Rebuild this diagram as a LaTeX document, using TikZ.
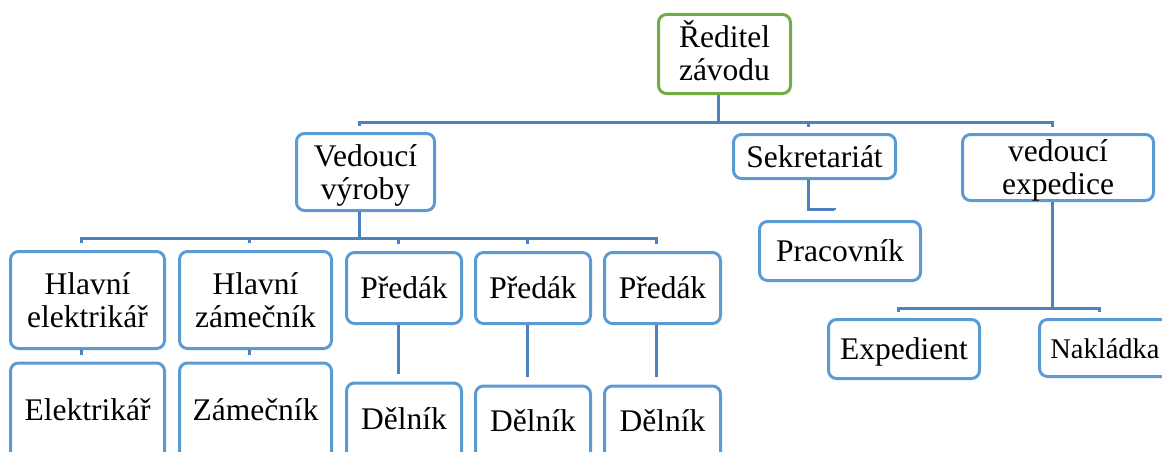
\documentclass[tikz,border=0pt]{standalone}
\usepackage{fontspec}
\setmainfont{Liberation Serif}
\usepackage{tikz}
\usetikzlibrary{calc}
\usetikzlibrary{positioning}
\definecolor{BoxBlue}{RGB}{91,155,213}
\definecolor{LinkBlue}{RGB}{79,129,189}
\definecolor{LeafGreen}{RGB}{112,173,71}
\tikzset{
	unit/.style={draw=BoxBlue, line width=3pt, rounded corners=8pt, align=center, inner sep=0pt, font=\fontsize{31.5}{33}\selectfont},
	oneline/.style={text height=27pt, text depth=6pt},
	twoline/.style={text height=60pt, text depth=6pt},
	cutbox/.style={anchor=north, minimum width=154pt, text depth=80pt},
	link/.style={draw=LinkBlue, line width=3pt}
}

\begin{document}
\begin{tikzpicture}[x=1pt, y=-1pt]
		\useasboundingbox (0,0) rectangle (1162,452);
		
		\node [unit, twoline, draw=LeafGreen, minimum width=132pt, minimum height=79pt] (dir) at (724.5,54) {Ředitel\\závodu};
		
		\node [unit, twoline, minimum width=138pt, minimum height=77pt] (vyr) at (365.5,172) {Vedoucí\\výroby};
		\node [unit, oneline, minimum width=162pt, minimum height=44pt] (sek) at (814.5,156.5) {Sekretariát};
		\node [unit, twoline, minimum width=191pt, minimum height=66pt] (vex) at (1058,167.5) {vedoucí\\expedice};
		
		\node [unit, oneline, minimum width=161pt, minimum height=59pt] (prac) at (840,251) {Pracovník};
		\node [unit, oneline, minimum width=151pt, minimum height=59pt] (expd) at (904,349) {Expedient};
		\node [unit, oneline, minimum width=131pt, minimum height=57pt, font=\fontsize{28.5}{30}\selectfont] (nakl) at (1105,348) {Nakládka};
		
		\node [unit, twoline, minimum width=154pt, minimum height=97pt] (hel) at (87.5,300) {Hlavní\\elektrikář};
		\node [unit, twoline, minimum width=152pt, minimum height=97pt] (hza) at (255.5,300) {Hlavní\\zámečník};
		\node [unit, oneline, minimum width=115pt, minimum height=71pt] (pr1) at (404,288) {Předák};
		\node [unit, oneline, minimum width=115pt, minimum height=71pt] (pr2) at (533,288) {Předák};
		\node [unit, oneline, minimum width=116pt, minimum height=71pt] (pr3) at (662.5,288) {Předák};
		
		\node [unit, cutbox, text height=57.5pt] (ele) at (87.5,361.5) {Elektrikář};
		\node [unit, cutbox, minimum width=152pt, text height=57.5pt] (zam) at (255.5,361.5) {Zámečník};
		\node [unit, cutbox, minimum width=115pt, text height=46.5pt] (de1) at (404,381.5) {Dělník};
		\node [unit, cutbox, minimum width=115pt, text height=45.5pt] (de2) at (533,384.5) {Dělník};
		\node [unit, cutbox, minimum width=116pt, text height=45.5pt] (de3) at (662.5,384.5) {Dělník};
		
		\coordinate (busA) at (0,122);
		\coordinate (busB) at (0,238);
		\coordinate (busS) at (0,209);
		\coordinate (busC) at (0,308);
		
		\foreach \n in {vyr,sek,vex}
			\draw [link, shorten >=6pt] ([xshift=-6pt]dir.south) |- ([xshift=-6pt]\n.north |- busA) -- ([xshift=-6pt]\n.north);
		\foreach \n in {hel,hza,pr1,pr2,pr3}
			\draw [link, shorten >=7pt] ([xshift=-6pt]vyr.south) |- ([xshift=-6pt]\n.north |- busB) -- ([xshift=-6pt]\n.north);
		\foreach \i in {1,2,3}
			\draw [link, shorten >=7.5pt] ([xshift=-6pt]pr\i.south) -- ([xshift=-6pt]de\i.north);
		\draw [link, shorten >=7pt] ([xshift=-6pt]hel.south) -- ([xshift=-6pt]ele.north);
		\draw [link, shorten >=7pt] ([xshift=-6pt]hza.south) -- ([xshift=-6pt]zam.north);
		\draw [link, shorten >=10pt] ([xshift=-6pt]sek.south) |- ([xshift=-6pt]prac.north |- busS) -- ([xshift=-6pt]prac.north);
		\foreach \n in {expd,nakl}
			\draw [link, shorten >=6pt] ([xshift=-6pt]vex.south) |- ([xshift=-6pt]\n.north |- busC) -- ([xshift=-6pt]\n.north);
	\end{tikzpicture}
\end{document}
